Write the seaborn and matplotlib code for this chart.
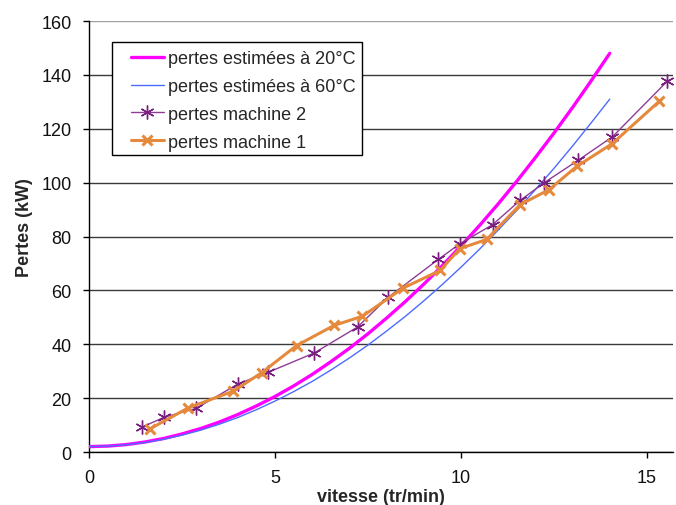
import seaborn as sns
import matplotlib.pyplot as plt
from matplotlib.patches import Rectangle
import pandas as pd

# courbes estimées
vitesse_est = [0, 0.5, 1, 1.5, 2, 2.5, 3, 3.5, 4, 4.5, 5, 5.5, 6, 6.5, 7, 7.5,
               8, 8.5, 9, 9.5, 10, 10.5, 11, 11.5, 12, 12.5, 13, 13.5, 14]
pertes_20c = [2, 2.2, 2.75, 3.7, 5, 6.7, 8.7, 11.1, 13.9, 17.1, 20.6, 24.5, 28.8, 33.5, 38.5, 43.9,
              49.7, 55.8, 62.3, 69.2, 76.5, 84.1, 92.1, 100.5, 109.3, 118.4, 127.9, 137.8, 148]
pertes_60c = [2, 2.2, 2.7, 3.5, 4.7, 6.25, 8.1, 10.3, 12.8, 15.7, 18.9, 22.4, 26.2, 30.4, 34.9, 39.7,
              44.9, 50.3, 56.1, 62.2, 68.6, 75.3, 82.4, 89.7, 97.4, 105.3, 113.6, 122.2, 131]

# mesures machine 2
vitesse_m2 = [1.42, 2.02, 2.88, 4.01, 4.82, 6.06, 7.22, 8.04, 9.39, 9.97, 10.85, 11.59, 12.24, 13.15, 14.07, 15.55]
pertes_m2 = [9.2, 12.9, 16.2, 25.3, 29.6, 36.8, 46.4, 57.4, 71.5, 77.3, 84.4, 93.4, 100, 108.3, 117, 137.7]

# mesures machine 1
vitesse_m1 = [1.64, 2.67, 3.88, 4.64, 5.58, 6.59, 7.35, 8.45, 9.44, 9.97, 10.69, 11.59, 12.37, 13.11, 14.07, 15.33]
pertes_m1 = [8.6, 16.4, 22.6, 29.4, 39.5, 47, 50.4, 60.9, 67.4, 75.5, 78.9, 91.8, 97.4, 106, 114.5, 130.2]

sns.set_style("white")
plt.rcParams['font.family'] = ['Liberation Sans', 'DejaVu Sans']

W, H = 676, 506
fig = plt.figure(figsize=(W / 100, H / 100), dpi=100)
ax = fig.add_axes([89 / W, 1 - 453 / H, (673 - 89) / W, (453 - 22) / H])

df_est = pd.DataFrame({'v': vitesse_est, 'p20': pertes_20c, 'p60': pertes_60c})
df_m2 = pd.DataFrame({'v': vitesse_m2, 'p': pertes_m2})
df_m1 = pd.DataFrame({'v': vitesse_m1, 'p': pertes_m1})

sns.lineplot(data=df_est, x='v', y='p20', ax=ax, color='#FF00FF', lw=2.4,
             label='pertes estimées à 20°C', zorder=3)
sns.lineplot(data=df_est, x='v', y='p60', ax=ax, color='#4D6BFF', lw=1.0,
             label='pertes estimées à 60°C', zorder=3)
sns.lineplot(data=df_m2, x='v', y='p', ax=ax, color='#8E3D96', lw=1.0,
             marker=(6, 2, 0), markersize=10, markeredgewidth=1.0,
             markeredgecolor='#7A1F80', sort=False, estimator=None,
             label='pertes machine 2', zorder=4)
sns.lineplot(data=df_m1, x='v', y='p', ax=ax, color='#E58A3C', lw=2.2,
             marker='x', markersize=7, markeredgewidth=2.2,
             markeredgecolor='#E58A3C', sort=False, estimator=None,
             label='pertes machine 1', zorder=5)

ax.set_xlim(0, 15.7)
ax.set_ylim(0, 160)
ax.set_xticks([0, 5, 10, 15])
ax.set_yticks(range(0, 161, 20))
ax.yaxis.grid(True, color='#3a3a3a', lw=1.0)
ax.get_ygridlines()[-1].set_color('#a0a0a0')
ax.set_axisbelow(True)
for s in ['top', 'right']:
    ax.spines[s].set_visible(False)
for s in ['left', 'bottom']:
    ax.spines[s].set_color('black')
    ax.spines[s].set_linewidth(1.0)
ax.tick_params(axis='both', which='major', direction='out', length=4.5,
               width=1, color='black', labelsize=13, pad=8, left=True, bottom=True,
               labelcolor='#111111')

ax.set_xlabel('vitesse (tr/min)', fontsize=13, fontweight='bold', labelpad=1)
ax.set_ylabel('Pertes (kW)', fontsize=13, fontweight='bold')
ax.yaxis.set_label_coords((33 - 89) / 584, 0.523)

# légende sans cadre, puis cadre dessiné à part (sous la légende)
leg = ax.legend(loc='upper left', bbox_to_anchor=((131 - 89) / 584, (453 - 51) / 431),
                borderaxespad=0, borderpad=0, fontsize=13, frameon=False,
                handlelength=1.8, handletextpad=0.25, labelspacing=0.6)
leg.set_zorder(7)
ax.add_patch(Rectangle((112 / W, 1 - 156 / H), (362 - 112) / W, (156 - 43) / H,
                       transform=fig.transFigure, facecolor='white',
                       edgecolor='black', lw=1.0, zorder=6, clip_on=False))

plt.savefig('out.png', dpi=100)
plt.close()
